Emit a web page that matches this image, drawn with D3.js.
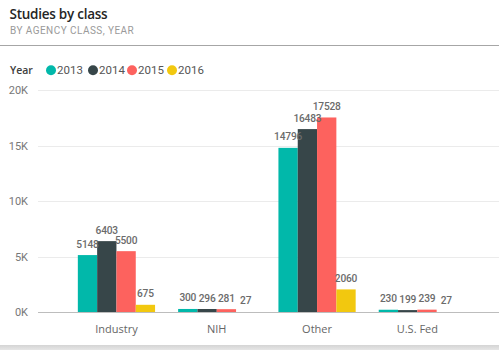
<!DOCTYPE html>
<html><head><meta charset="utf-8">
<script src="https://cdn.jsdelivr.net/npm/d3@7"></script>
<style>
html,body{margin:0;padding:0;background:#fff;}
svg{display:block;}
</style></head>
<body>
<svg id="chart" width="499" height="350"></svg>
<script>
const categories = ["Industry", "NIH", "Other", "U.S. Fed"];
const years = ["2013", "2014", "2015", "2016"];
const values2013 = [5148, 300, 14796, 230];
const values2014 = [6403, 296, 16483, 199];
const values2015 = [5500, 281, 17528, 239];
const values2016 = [675, 27, 2060, 27];
const yTicks = [0, 5000, 10000, 15000, 20000];
const colors = ["#01B8AA", "#374649", "#FD625E", "#F2C80F"];

const series = [values2013, values2014, values2015, values2016];
const svg = d3.select("#chart");

// card background + bottom shadow
const defs = svg.append("defs");
const grad = defs.append("linearGradient").attr("id","sh").attr("x1",0).attr("y1",0).attr("x2",0).attr("y2",1);
grad.append("stop").attr("offset","0%").attr("stop-color","#d4d4d4");
grad.append("stop").attr("offset","100%").attr("stop-color","#e6e6e6");
svg.append("rect").attr("x",0).attr("y",345).attr("width",499).attr("height",5).attr("fill","url(#sh)");
svg.append("rect").attr("x",0).attr("y",0).attr("width",499).attr("height",345).attr("fill","#fff");

// title
svg.append("text").attr("x",9.5).attr("y",18.5).text("Studies by class")
  .attr("font-family","'Open Sans', sans-serif").attr("font-weight",600).attr("font-size",13.5)
  .attr("letter-spacing",-0.25).attr("fill","#252525");
svg.append("text").attr("x",10).attr("y",34.3).text("BY AGENCY CLASS, YEAR")
  .attr("font-family","'Roboto', sans-serif").attr("font-size",10).attr("fill","#9a9a9a").attr("letter-spacing",0.45);
svg.append("line").attr("x1",0).attr("x2",499).attr("y1",45.5).attr("y2",45.5).attr("stroke","#a6a6a6").attr("stroke-width",1);

// legend
const legend = svg.append("g");
legend.append("text").attr("x",10).attr("y",73.5).text("Year")
  .attr("font-family","'Open Sans', sans-serif").attr("font-weight",600).attr("font-size",10.5).attr("fill","#404040");
const legX = [51, 93, 132, 172];
years.forEach((yr,i)=>{
  legend.append("circle").attr("cx",legX[i]).attr("cy",70.3).attr("r",5).attr("fill",colors[i]);
  legend.append("text").attr("x",legX[i]+6).attr("y",74.2).text(yr)
    .attr("font-family","'Roboto', sans-serif").attr("font-size",11.5).attr("fill","#555");
});

// scales
const y = d3.scaleLinear().domain([0,20000]).range([312.3, 90]);
const x0 = d3.scaleBand().domain(categories).range([66.3, 467.5]).paddingInner(0.23).paddingOuter(0.115);
const x1 = d3.scaleBand().domain(years).range([0, x0.bandwidth()]).padding(0);

// gridlines
svg.append("g").selectAll("line").data(yTicks.filter(d=>d>0)).join("line")
  .attr("x1",38).attr("x2",499).attr("y1",d=>Math.round(y(d))+0.5).attr("y2",d=>Math.round(y(d))+0.5)
  .attr("stroke","#ebebeb").attr("stroke-width",1);

// y axis labels
const yAxis = d3.axisLeft(y).tickValues(yTicks).tickFormat(d=>(d/1000)+"K").tickSize(0).tickPadding(0);
const ya = svg.append("g").attr("transform","translate(28,0)").call(yAxis);
ya.select(".domain").remove();
ya.selectAll("text").attr("font-family","'Roboto', sans-serif").attr("font-size",11).attr("fill","#777");

// bars
const groups = svg.append("g").selectAll("g").data(categories).join("g")
  .attr("transform",d=>`translate(${x0(d)},0)`);
groups.selectAll("rect").data((c,ci)=>years.map((yr,si)=>({yr,si,v:series[si][ci]}))).join("rect")
  .attr("x",d=>x1(d.yr)).attr("width",x1.bandwidth())
  .attr("y",d=>y(d.v)).attr("height",d=>y(0)-y(d.v)).attr("fill",d=>colors[d.si]);
groups.selectAll("text").data((c,ci)=>years.map((yr,si)=>({yr,si,v:series[si][ci]}))).join("text")
  .attr("x",d=>x1(d.yr)+x1.bandwidth()/2).attr("y",d=>y(d.v)-7.5)
  .attr("text-anchor","middle").text(d=>d.v)
  .attr("font-family","'Roboto', sans-serif").attr("font-weight",500).attr("font-size",10.2)
  .attr("letter-spacing",-0.2).attr("fill","#6b6b6b");

// baseline
svg.append("line").attr("x1",38).attr("x2",499).attr("y1",312.5).attr("y2",312.5).attr("stroke","#bdbdbd").attr("stroke-width",1);

// x axis labels
const xAxis = d3.axisBottom(x0).tickSize(0).tickPadding(0);
const xa = svg.append("g").attr("transform","translate(0,333)").call(xAxis);
xa.select(".domain").remove();
xa.selectAll("text").attr("dy",0).attr("font-family","'Open Sans', sans-serif").attr("font-size",11).attr("fill","#666");
</script>
</body></html>
